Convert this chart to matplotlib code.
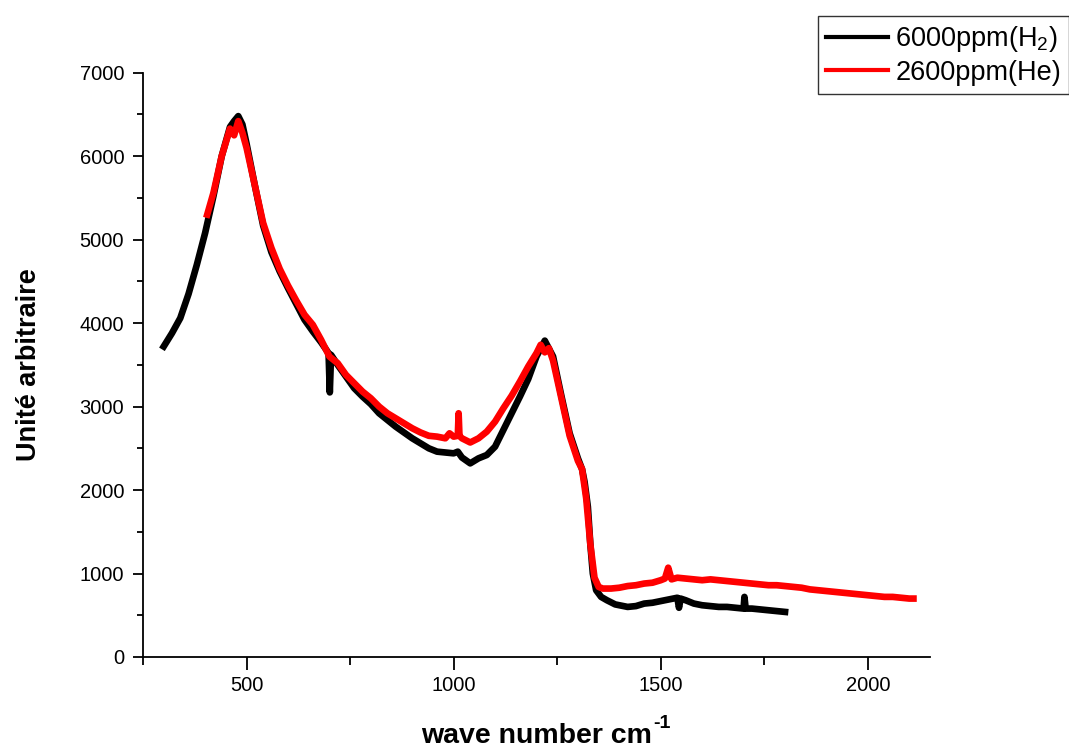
import matplotlib
matplotlib.use("Agg")
import matplotlib.pyplot as plt
from matplotlib.ticker import MultipleLocator

plt.rcParams['font.family'] = ['Liberation Sans', 'DejaVu Sans']
plt.rcParams['mathtext.fontset'] = 'custom'
plt.rcParams['mathtext.rm'] = 'Liberation Sans'
plt.rcParams['mathtext.bf'] = 'Liberation Sans:bold'
plt.rcParams['mathtext.default'] = 'regular'

# ---- data ----
h2_x = [300, 320, 340, 360, 380, 400, 420, 440, 460, 470, 480, 490, 500, 520, 540, 560, 580,
        600, 620, 640, 660, 680, 698, 701, 704, 720, 740, 760, 780, 800, 820, 840,
        860, 880, 900, 920, 940, 960, 980, 1000, 1010, 1020, 1040, 1060, 1080, 1100,
        1120, 1140, 1160, 1180, 1200, 1220, 1240, 1260, 1280, 1300, 1310, 1316, 1324,
        1330, 1336, 1344, 1356, 1370, 1390, 1400, 1420, 1440, 1460, 1480, 1500, 1520,
        1540, 1544, 1548, 1560, 1580, 1600, 1620, 1640, 1660, 1680, 1700, 1702, 1705,
        1720, 1740, 1760, 1780, 1800]
h2_y = [3720, 3880, 4060, 4350, 4700, 5080, 5520, 6000, 6350, 6420, 6480, 6380, 6150, 5650,
        5170, 4850, 4620, 4420, 4230, 4040, 3900, 3770, 3640, 3170, 3620, 3500, 3360, 3220,
        3120, 3030, 2920, 2840, 2760, 2690, 2620, 2560, 2500, 2460, 2450, 2440, 2460, 2390,
        2320, 2380, 2420, 2520, 2720, 2920, 3120, 3330, 3600, 3790, 3600, 3130, 2680, 2380,
        2250, 2100, 1800, 1350, 1000, 800, 720, 680, 630, 620, 600, 610, 640, 650, 670, 690,
        710, 590, 700, 680, 640, 620, 610, 600, 600, 590, 580, 720, 580, 580, 570, 560, 550,
        540]

he_x = [405, 420, 440, 460, 470, 480, 490, 500, 520, 540, 560, 580, 600, 620, 640, 660, 680,
        690, 700, 720, 740, 760, 780, 800, 820, 840, 860, 880, 900, 920, 940, 960, 980,
        990, 1000, 1010, 1012, 1014, 1020, 1040, 1060, 1080, 1100, 1120, 1140, 1160, 1180,
        1200, 1210, 1220, 1230, 1240, 1260, 1280, 1300, 1310, 1320, 1330, 1340, 1350, 1360,
        1380, 1400, 1420, 1440, 1460, 1480, 1500, 1510, 1518, 1526, 1540, 1560, 1580, 1600,
        1620, 1640, 1660, 1680, 1700, 1720, 1740, 1760, 1780, 1800, 1820, 1840, 1860, 1880,
        1900, 1920, 1940, 1960, 1980, 2000, 2020, 2040, 2060, 2080, 2100, 2110]
he_y = [5300, 5560, 6000, 6330, 6250, 6420, 6280, 6100, 5650, 5200, 4900, 4650, 4450, 4270,
        4100, 3980, 3800, 3700, 3600, 3520, 3380, 3280, 3180, 3100, 3000, 2920, 2860, 2800,
        2740, 2690, 2650, 2640, 2620, 2680, 2640, 2650, 2920, 2650, 2620, 2570, 2620, 2700,
        2820, 2980, 3130, 3300, 3480, 3640, 3740, 3650, 3700, 3550, 3100, 2650, 2350, 2250,
        1900, 1350, 950, 840, 820, 820, 830, 850, 860, 880, 890, 920, 940, 1070, 930, 950,
        940, 930, 920, 930, 920, 910, 900, 890, 880, 870, 860, 860, 850, 840, 830, 810, 800,
        790, 780, 770, 760, 750, 740, 730, 720, 720, 710, 700, 700]

labels = ['6000ppm(H$_2$)', '2600ppm(He)']
colors = ['black', '#ff0000']

fig = plt.figure(figsize=(10.69, 7.51), dpi=100)
ax = fig.add_axes([143 / 1069, 1 - 657 / 751, (930 - 143) / 1069, (657 - 72.7) / 751])

ax.plot(h2_x, h2_y, color=colors[0], lw=4.8, label=labels[0], solid_joinstyle='round')
ax.plot(he_x, he_y, color=colors[1], lw=4.8, label=labels[1], solid_joinstyle='round')

ax.set_xlim(250, 2150)
ax.set_ylim(0, 7000)
ax.xaxis.set_major_locator(MultipleLocator(500))
ax.xaxis.set_minor_locator(MultipleLocator(250))
ax.yaxis.set_major_locator(MultipleLocator(1000))
ax.yaxis.set_minor_locator(MultipleLocator(500))

for s in ['top', 'right']:
    ax.spines[s].set_visible(False)
for s in ['left', 'bottom']:
    ax.spines[s].set_linewidth(1.3)

ax.tick_params(axis='x', which='major', direction='out', length=9, width=1.3, labelsize=14.5, pad=5)
ax.tick_params(axis='x', which='minor', direction='out', length=5.5, width=1.3)
ax.tick_params(axis='y', which='major', direction='out', length=7.5, width=1.3, labelsize=14.5, pad=6)
ax.tick_params(axis='y', which='minor', direction='out', length=4, width=1.3)

xl = ax.set_xlabel('wave number cm', fontsize=20.5, fontweight='bold', labelpad=20)
ax.set_ylabel('Unité arbitraire', fontsize=19.5, fontweight='bold', labelpad=27)

leg = ax.legend(loc='upper left', bbox_to_anchor=(818 / 1069, 1 - 16 / 751),
                bbox_transform=fig.transFigure, fontsize=19.5, frameon=True, fancybox=False,
                edgecolor='black', handlelength=2.3, handletextpad=0.26, borderpad=0.3,
                labelspacing=0.2, borderaxespad=0)
leg.get_frame().set_linewidth(1.0)
for line in leg.get_lines():
    line.set_linewidth(3)

# superscript "-1" after the x label
fig.canvas.draw()
bb = xl.get_window_extent()
fig.text((bb.x1 + 1) / fig.bbox.width, (bb.y1 + 8) / fig.bbox.height, '-1',
         fontsize=14, fontweight='bold', ha='left', va='top')

fig.savefig('out.png', dpi=100)
